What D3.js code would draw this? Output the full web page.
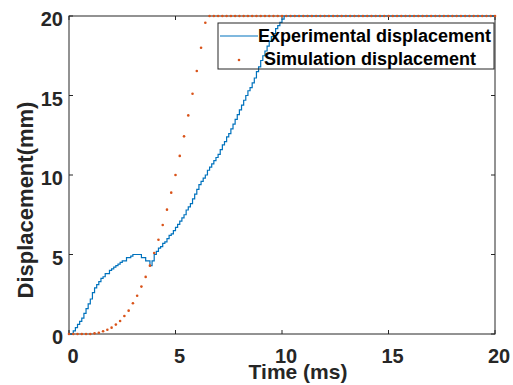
<!DOCTYPE html>
<html>
<head>
<meta charset="utf-8">
<script src="https://cdn.jsdelivr.net/npm/d3@7"></script>
<style>
  html, body { margin: 0; padding: 0; background: #fff; }
  svg { display: block; font-family: "Liberation Sans", Arial, sans-serif; }
</style>
</head>
<body>
<div id="chart"></div>
<script>
const expTime = [
  0, 0.1, 0.2, 0.3, 0.4, 0.5, 0.6, 0.7, 0.8, 0.9,
  1.0, 1.1, 1.2, 1.3, 1.4, 1.5, 1.6, 1.7, 1.8, 1.9,
  2.0, 2.1, 2.2, 2.3, 2.4, 2.5, 2.6, 2.7, 2.8, 2.9,
  3.0, 3.1, 3.2, 3.3, 3.4, 3.5, 3.6, 3.7, 3.8, 3.9,
  4.0, 4.1, 4.2, 4.3, 4.4, 4.5, 4.6, 4.7, 4.8, 4.9,
  5.0, 5.1, 5.2, 5.3, 5.4, 5.5, 5.6, 5.7, 5.8, 5.9,
  6.0, 6.1, 6.2, 6.3, 6.4, 6.5, 6.6, 6.7, 6.8, 6.9,
  7.0, 7.1, 7.2, 7.3, 7.4, 7.5, 7.6, 7.7, 7.8, 7.9,
  8.0, 8.1, 8.2, 8.3, 8.4, 8.5, 8.6, 8.7, 8.8, 8.9,
  9.0, 9.1, 9.2, 9.3, 9.4, 9.5, 9.6, 9.7, 9.8, 9.9,
  10.0, 10.1, 20
];
const expDisp = [
  0, 0, 0.2, 0.4, 0.6, 0.8, 1.0, 1.3, 1.6, 1.9,
  2.2, 2.6, 2.9, 3.1, 3.3, 3.5, 3.6, 3.8, 3.8, 4.0,
  4.1, 4.2, 4.3, 4.4, 4.5, 4.6, 4.6, 4.8, 4.8, 4.9,
  5.0, 5.0, 5.0, 5.0, 4.8, 4.8, 4.6, 4.6, 4.3, 4.6,
  5.0, 5.2, 5.4, 5.5, 5.7, 5.8, 6.0, 6.2, 6.3, 6.5,
  6.7, 6.9, 7.1, 7.3, 7.5, 7.8, 8.0, 8.2, 8.5, 8.8,
  9.1, 9.4, 9.6, 9.8, 10.0, 10.3, 10.5, 10.7, 10.9, 11.1,
  11.3, 11.6, 11.9, 12.1, 12.4, 12.6, 12.9, 13.2, 13.5, 13.8,
  14.1, 14.4, 14.7, 15.0, 15.3, 15.5, 15.8, 16.1, 16.5, 16.8,
  17.2, 17.5, 17.8, 18.1, 18.4, 18.7, 18.9, 19.2, 19.4, 19.6,
  19.8, 20, 20
];

// simulation displacement, one point every 0.2 ms
const simTime = d3.range(0, 20.0001, 0.2).map(t => +t.toFixed(1));
const simDisp = [
  0, 0, 0, 0, 0, 0, 0.04, 0.08, 0.17, 0.27,
  0.4, 0.59, 0.82, 1.13, 1.47, 1.93, 2.41, 2.98, 3.59, 4.3,
  5.09, 5.93, 6.86, 7.82, 8.89, 10.0, 11.2, 12.43, 13.75, 15.11,
  16.54, 18.0, 19.58, 20, 20, 20, 20, 20, 20, 20,
  20, 20, 20, 20, 20, 20, 20, 20, 20, 20,
  20, 20, 20, 20, 20, 20, 20, 20, 20, 20,
  20, 20, 20, 20, 20, 20, 20, 20, 20, 20,
  20, 20, 20, 20, 20, 20, 20, 20, 20, 20,
  20, 20, 20, 20, 20, 20, 20, 20, 20, 20,
  20, 20, 20, 20, 20, 20, 20, 20, 20, 20,
  20
];

const xTicks = [0, 5, 10, 15, 20];
const yTicks = [0, 5, 10, 15, 20];
const legendLabels = ["Experimental displacement", "Simulation displacement"];

const width = 513, height = 385;
const plot = { left: 69, right: 495, top: 16, bottom: 334 };
const blue = "#0072BD", orange = "#D95319", axisColor = "#262626";

const svg = d3.select("#chart").append("svg")
  .attr("width", width)
  .attr("height", height);

const x = d3.scaleLinear().domain([0, 20]).range([plot.left, plot.right]);
const y = d3.scaleLinear().domain([0, 20]).range([plot.bottom, plot.top]);

// axes box
svg.append("rect")
  .attr("x", plot.left).attr("y", plot.top)
  .attr("width", plot.right - plot.left).attr("height", plot.bottom - plot.top)
  .attr("fill", "none").attr("stroke", axisColor).attr("stroke-width", 1);

// inward ticks on all four sides
const tickLen = 4;
svg.append("g").selectAll("line").data(xTicks).join("line")
  .attr("x1", d => x(d)).attr("x2", d => x(d))
  .attr("y1", plot.bottom).attr("y2", plot.bottom - tickLen)
  .attr("stroke", axisColor);
svg.append("g").selectAll("line").data(xTicks).join("line")
  .attr("x1", d => x(d)).attr("x2", d => x(d))
  .attr("y1", plot.top).attr("y2", plot.top + tickLen)
  .attr("stroke", axisColor);
svg.append("g").selectAll("line").data(yTicks).join("line")
  .attr("x1", plot.left).attr("x2", plot.left + tickLen)
  .attr("y1", d => y(d)).attr("y2", d => y(d))
  .attr("stroke", axisColor);
svg.append("g").selectAll("line").data(yTicks).join("line")
  .attr("x1", plot.right).attr("x2", plot.right - tickLen)
  .attr("y1", d => y(d)).attr("y2", d => y(d))
  .attr("stroke", axisColor);

// tick labels
svg.append("g").selectAll("text").data(xTicks).join("text")
  .attr("x", d => x(d) + 4)
  .attr("y", 363)
  .attr("text-anchor", "middle")
  .style("font-size", "20px").style("font-weight", "bold").style("fill", axisColor)
  .text(d => d);
svg.append("g").selectAll("text").data(yTicks).join("text")
  .attr("x", 63)
  .attr("y", d => y(d) + 10)
  .attr("text-anchor", "end")
  .style("font-size", "20px").style("font-weight", "bold").style("fill", axisColor)
  .text(d => d);

// axis titles
svg.append("text")
  .attr("x", 298).attr("y", 379)
  .attr("text-anchor", "middle")
  .style("font-size", "21px").style("font-weight", "bold").style("fill", axisColor)
  .text("Time (ms)");
svg.append("text")
  .attr("transform", "translate(33,200) rotate(-90)")
  .attr("text-anchor", "middle")
  .style("font-size", "22px").style("font-weight", "bold").style("fill", axisColor)
  .text("Displacement(mm)");

// experimental line (sampled, stepped)
const expData = expTime.map((t, i) => ({ t, v: expDisp[i] }));
svg.append("path")
  .datum(expData)
  .attr("fill", "none")
  .attr("stroke", blue)
  .attr("stroke-width", 1.2)
  .attr("d", d3.line().x(d => x(d.t)).y(d => y(d.v)).curve(d3.curveStepAfter));

// simulation dots
const simData = simTime.map((t, i) => ({ t, v: simDisp[i] }));
svg.append("g").selectAll("circle").data(simData).join("circle")
  .attr("cx", d => x(d.t))
  .attr("cy", d => y(d.v))
  .attr("r", 1.3)
  .attr("fill", orange);

// legend
const legend = svg.append("g");
legend.append("rect")
  .attr("x", 218).attr("y", 23)
  .attr("width", 276).attr("height", 46)
  .attr("fill", "none").attr("stroke", axisColor).attr("stroke-width", 1);
legend.append("line")
  .attr("x1", 220).attr("x2", 258)
  .attr("y1", 36).attr("y2", 36)
  .attr("stroke", blue).attr("stroke-width", 1.2);
legend.append("circle")
  .attr("cx", 239).attr("cy", 60).attr("r", 1.3).attr("fill", orange);
legend.selectAll("text").data(legendLabels).join("text")
  .attr("x", (d, i) => i === 0 ? 258 : 264)
  .attr("y", (d, i) => i === 0 ? 42 : 65)
  .style("font-size", "18px").style("font-weight", "bold").style("fill", "#000")
  .text(d => d);
</script>
</body>
</html>
